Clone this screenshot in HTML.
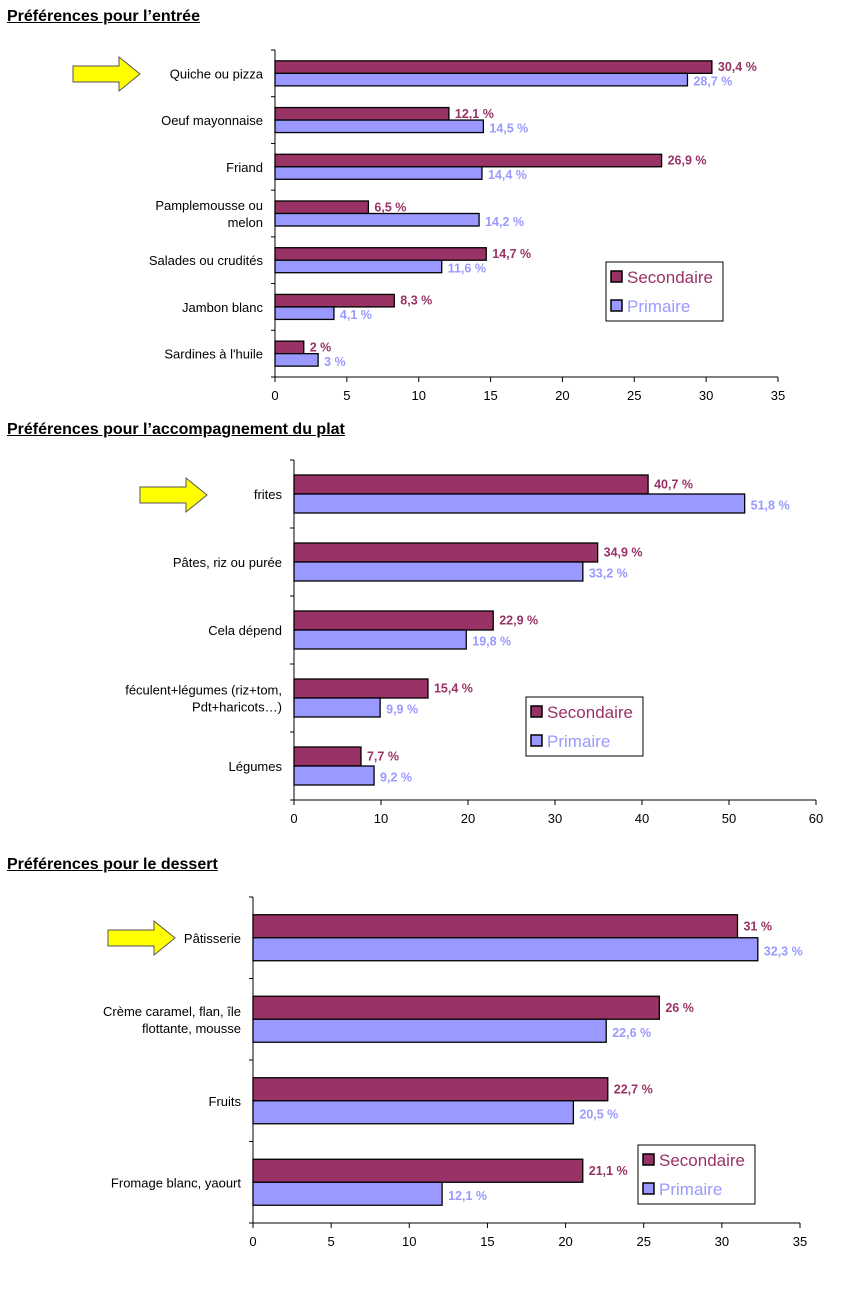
<!DOCTYPE html>
<html><head><meta charset="utf-8"><style>
body{margin:0;background:#fff;width:860px;height:1296px;overflow:hidden;font-family:"Liberation Sans",sans-serif}
.t{position:absolute;left:7px;font-weight:bold;font-size:16px;text-decoration:underline;color:#000}
svg{position:absolute;left:0;top:0}
</style></head><body>
<div class="t" style="top:8px">Préférences pour l’entrée</div>
<div class="t" style="top:421px">Préférences pour l’accompagnement du plat</div>
<div class="t" style="top:856px">Préférences pour le dessert</div>
<svg id="s" width="860" height="1296"></svg>
<script>
const cats1=["Quiche ou pizza","Oeuf mayonnaise","Friand","Pamplemousse ou|melon","Salades ou crudités","Jambon blanc","Sardines à l'huile"];
const sec1=[30.4,12.1,26.9,6.5,14.7,8.3,2];
const pri1=[28.7,14.5,14.4,14.2,11.6,4.1,3];
const ticks1=[0,5,10,15,20,25,30,35];
const cats2=["frites","Pâtes, riz ou purée","Cela dépend","féculent+légumes (riz+tom,|Pdt+haricots…)","Légumes"];
const sec2=[40.7,34.9,22.9,15.4,7.7];
const pri2=[51.8,33.2,19.8,9.9,9.2];
const ticks2=[0,10,20,30,40,50,60];
const cats3=["Pâtisserie","Crème caramel, flan, île|flottante, mousse","Fruits","Fromage blanc, yaourt"];
const sec3=[31,26,22.7,21.1];
const pri3=[32.3,22.6,20.5,12.1];
const ticks3=[0,5,10,15,20,25,30,35];
const S=document.getElementById('s'),NS="http://www.w3.org/2000/svg";
function el(t,a,txt){const e=document.createElementNS(NS,t);for(const k in a)e.setAttribute(k,a[k]);if(txt!=null)e.textContent=txt;S.appendChild(e);return e;}
function fmt(v){return String(v).replace('.',',')+' %';}
function chart(o){
  const {cats,sec,pri,ticks,x0,x1,top,bot,bh,leg,arrow,id}=o;
  const max=ticks[ticks.length-1];
  const X=v=>x0+(x1-x0)*v/max;
  const band=(bot-top)/cats.length;
  let e=el('line',{x1:x0,y1:top,x2:x0,y2:bot,stroke:'#000'});
  
  e=el('line',{x1:x0,y1:bot,x2:x1,y2:bot,stroke:'#000'});
  
  for(let i=0;i<=cats.length;i++){el('line',{x1:x0-4,y1:top+band*i,x2:x0,y2:top+band*i,stroke:'#000'});}
  ticks.forEach(t=>{el('line',{x1:X(t),y1:bot,x2:X(t),y2:bot+5,stroke:'#000'});
    e=el('text',{x:X(t),y:bot+23,'text-anchor':'middle','font-size':13,fill:'#000'},t);
    });
  cats.forEach((c,i)=>{
    const cy=top+band*(i+0.5);
    const lines=c.split('|');
    lines.forEach((l,j)=>{e=el('text',{x:x0-12,y:cy+5+(j-(lines.length-1)/2)*17,'text-anchor':'end','font-size':13,fill:'#000'},l);
      });
    e=el('rect',{x:x0,y:cy-bh,width:X(sec[i])-x0,height:bh,fill:'#993366',stroke:'#000','stroke-width':1.3});
    
    e=el('rect',{x:x0,y:cy,width:X(pri[i])-x0,height:bh,fill:'#9999ff',stroke:'#000','stroke-width':1.3});
    
    e=el('text',{x:X(sec[i])+6,y:cy-bh/2+4,'font-size':12.5,'font-weight':'bold',fill:'#993366'},fmt(sec[i]));
    
    e=el('text',{x:X(pri[i])+6,y:cy+bh/2+6,'font-size':12.5,'font-weight':'bold',fill:'#9999ff'},fmt(pri[i]));
    
  });
  const [lx,ly]=leg;
  e=el('rect',{x:lx,y:ly,width:117,height:59,fill:'#fff',stroke:'#000'});
  
  el('rect',{x:lx+5,y:ly+9,width:11,height:11,fill:'#993366',stroke:'#000','stroke-width':1.5});
  e=el('text',{x:lx+21,y:ly+21,'font-size':17,fill:'#993366'},'Secondaire');
  
  el('rect',{x:lx+5,y:ly+38,width:11,height:11,fill:'#9999ff',stroke:'#000','stroke-width':1.5});
  e=el('text',{x:lx+21,y:ly+50,'font-size':17,fill:'#9999ff'},'Primaire');
  
  const [ax,ay]=arrow;
  e=el('polygon',{points:`${ax},${ay-8} ${ax+46},${ay-8} ${ax+46},${ay-17} ${ax+67},${ay} ${ax+46},${ay+17} ${ax+46},${ay+8} ${ax},${ay+8}`,fill:'#ffff00',stroke:'#555','stroke-width':1});
  
}
chart({id:'entree',cats:cats1,sec:sec1,pri:pri1,ticks:ticks1,x0:275,x1:778,top:50,bot:377,bh:12.5,leg:[606,262],arrow:[73,74]});
chart({id:'accompagnement',cats:cats2,sec:sec2,pri:pri2,ticks:ticks2,x0:294,x1:816,top:460,bot:800,bh:19,leg:[526,697],arrow:[140,495]});
chart({id:'dessert',cats:cats3,sec:sec3,pri:pri3,ticks:ticks3,x0:253,x1:800,top:897,bot:1223,bh:23,leg:[638,1145],arrow:[108,938]});
</script>
</body></html>
